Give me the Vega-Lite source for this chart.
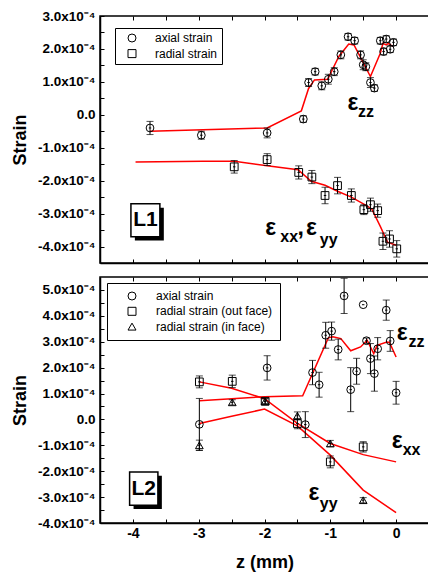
{
  "$schema": "https://vega.github.io/schema/vega-lite/v6.json",
  "background": "white",
  "padding": {"left": 10, "top": 8, "right": 0, "bottom": 0},
  "config": {
    "font": "Liberation Sans",
    "view": {"stroke": "black", "strokeWidth": 1.5},
    "axis": {"grid": false, "domainColor": "black", "domainWidth": 1.5, "tickColor": "black", "tickWidth": 1, "tickSize": -4, "labelFont": "Liberation Sans", "labelFontWeight": "bold", "labelFontSize": 13.5, "labelColor": "black", "titleFont": "Liberation Sans", "titleFontWeight": "bold", "titleFontSize": 18, "titleColor": "black", "labelOverlap": false, "labelFlush": false, "tickCount": 50},
    "legend": {"title": null, "orient": "none", "strokeColor": "black", "fillColor": "white", "labelFont": "Liberation Sans", "labelFontSize": 12, "labelColor": "black", "symbolSize": 64, "symbolStrokeWidth": 1, "symbolStrokeColor": "black"}
  },
  "datasets": {
    "top_pts": [
      {"z": -3.74, "v": -0.40e-4, "err": 0.20e-4, "series": "axial strain"},
      {"z": -2.96, "v": -0.62e-4, "err": 0.12e-4, "series": "axial strain"},
      {"z": -1.96, "v": -0.55e-4, "err": 0.15e-4, "series": "axial strain"},
      {"z": -1.41, "v": -0.13e-4, "err": 0.10e-4, "series": "axial strain"},
      {"z": -1.33, "v": 0.98e-4, "err": 0.12e-4, "series": "axial strain"},
      {"z": -1.23, "v": 1.31e-4, "err": 0.10e-4, "series": "axial strain"},
      {"z": -1.13, "v": 0.88e-4, "err": 0.12e-4, "series": "axial strain"},
      {"z": -1.03, "v": 1.08e-4, "err": 0.15e-4, "series": "axial strain"},
      {"z": -0.94, "v": 1.31e-4, "err": 0.12e-4, "series": "axial strain"},
      {"z": -0.84, "v": 1.82e-4, "err": 0.12e-4, "series": "axial strain"},
      {"z": -0.73, "v": 2.37e-4, "err": 0.10e-4, "series": "axial strain"},
      {"z": -0.63, "v": 2.25e-4, "err": 0.10e-4, "series": "axial strain"},
      {"z": -0.54, "v": 1.82e-4, "err": 0.12e-4, "series": "axial strain"},
      {"z": -0.50, "v": 1.52e-4, "err": 0.15e-4, "series": "axial strain"},
      {"z": -0.46, "v": 1.46e-4, "err": 0.12e-4, "series": "axial strain"},
      {"z": -0.39, "v": 0.98e-4, "err": 0.15e-4, "series": "axial strain"},
      {"z": -0.33, "v": 0.81e-4, "err": 0.10e-4, "series": "axial strain"},
      {"z": -0.24, "v": 2.25e-4, "err": 0.10e-4, "series": "axial strain"},
      {"z": -0.19, "v": 1.92e-4, "err": 0.10e-4, "series": "axial strain"},
      {"z": -0.15, "v": 2.30e-4, "err": 0.10e-4, "series": "axial strain"},
      {"z": -0.09, "v": 1.99e-4, "err": 0.10e-4, "series": "axial strain"},
      {"z": -0.04, "v": 2.20e-4, "err": 0.10e-4, "series": "axial strain"},
      {"z": -2.46, "v": -1.58e-4, "err": 0.19e-4, "series": "radial strain"},
      {"z": -1.96, "v": -1.36e-4, "err": 0.18e-4, "series": "radial strain"},
      {"z": -1.48, "v": -1.75e-4, "err": 0.20e-4, "series": "radial strain"},
      {"z": -1.28, "v": -1.89e-4, "err": 0.20e-4, "series": "radial strain"},
      {"z": -1.08, "v": -2.45e-4, "err": 0.25e-4, "series": "radial strain"},
      {"z": -0.89, "v": -2.15e-4, "err": 0.25e-4, "series": "radial strain"},
      {"z": -0.68, "v": -2.45e-4, "err": 0.20e-4, "series": "radial strain"},
      {"z": -0.49, "v": -2.88e-4, "err": 0.15e-4, "series": "radial strain"},
      {"z": -0.39, "v": -2.73e-4, "err": 0.20e-4, "series": "radial strain"},
      {"z": -0.28, "v": -2.91e-4, "err": 0.20e-4, "series": "radial strain"},
      {"z": -0.20, "v": -3.84e-4, "err": 0.25e-4, "series": "radial strain"},
      {"z": -0.10, "v": -3.77e-4, "err": 0.25e-4, "series": "radial strain"},
      {"z": 0.01, "v": -4.07e-4, "err": 0.25e-4, "series": "radial strain"}
    ],
    "top_fit": [
      {"z": -3.74, "v": -0.50e-4, "c": "zz"},
      {"z": -1.96, "v": -0.40e-4, "c": "zz"},
      {"z": -1.44, "v": 0.12e-4, "c": "zz"},
      {"z": -1.33, "v": 0.80e-4, "c": "zz"},
      {"z": -1.24, "v": 1.06e-4, "c": "zz"},
      {"z": -1.04, "v": 1.08e-4, "c": "zz"},
      {"z": -0.87, "v": 1.77e-4, "c": "zz"},
      {"z": -0.72, "v": 2.15e-4, "c": "zz"},
      {"z": -0.64, "v": 2.12e-4, "c": "zz"},
      {"z": -0.39, "v": 1.16e-4, "c": "zz"},
      {"z": -0.24, "v": 1.87e-4, "c": "zz"},
      {"z": -0.20, "v": 2.17e-4, "c": "zz"},
      {"z": -0.15, "v": 2.12e-4, "c": "zz"},
      {"z": -0.12, "v": 2.17e-4, "c": "zz"},
      {"z": -0.05, "v": 2.08e-4, "c": "zz"},
      {"z": -3.96, "v": -1.43e-4, "c": "xy"},
      {"z": -2.94, "v": -1.41e-4, "c": "xy"},
      {"z": -2.46, "v": -1.41e-4, "c": "xy"},
      {"z": -1.96, "v": -1.55e-4, "c": "xy"},
      {"z": -1.49, "v": -1.67e-4, "c": "xy"},
      {"z": -1.29, "v": -2.02e-4, "c": "xy"},
      {"z": -1.08, "v": -2.14e-4, "c": "xy"},
      {"z": -0.89, "v": -2.32e-4, "c": "xy"},
      {"z": -0.68, "v": -2.50e-4, "c": "xy"},
      {"z": -0.45, "v": -2.76e-4, "c": "xy"},
      {"z": -0.37, "v": -2.86e-4, "c": "xy"},
      {"z": -0.24, "v": -3.39e-4, "c": "xy"},
      {"z": -0.13, "v": -3.87e-4, "c": "xy"},
      {"z": 0.0, "v": -3.96e-4, "c": "xy"}
    ],
    "top_box": [
      {"z": -3.97, "z2": -3.53, "v": -2.82e-4, "v2": -3.82e-4, "k": "shadow"},
      {"z": -4.03, "z2": -3.59, "v": -2.70e-4, "v2": -3.70e-4, "k": "box"}
    ],
    "top_txt": [
      {"z": -0.74, "v": 0.36e-4, "t": "ε", "k": "big"},
      {"z": -0.58, "v": 0.08e-4, "t": "zz", "k": "sub"},
      {"z": -1.99, "v": -3.43e-4, "t": "ε", "k": "big"},
      {"z": -1.76, "v": -3.72e-4, "t": "xx", "k": "sub"},
      {"z": -1.50, "v": -3.43e-4, "t": ",", "k": "big"},
      {"z": -1.37, "v": -3.43e-4, "t": "ε", "k": "big"},
      {"z": -1.16, "v": -3.80e-4, "t": "yy", "k": "sub"},
      {"z": -3.81, "v": -3.2e-4, "t": "L1", "k": "L"}
    ],
    "bot_pts": [
      {"z": -2.99, "v": -0.19e-4, "err": 1.0e-4, "series": "axial strain"},
      {"z": -1.96, "v": 1.99e-4, "err": 0.47e-4, "series": "axial strain"},
      {"z": -1.38, "v": -0.20e-4, "err": 0.50e-4, "series": "axial strain"},
      {"z": -1.27, "v": 1.81e-4, "err": 0.47e-4, "series": "axial strain"},
      {"z": -1.17, "v": 1.34e-4, "err": 0.48e-4, "series": "axial strain"},
      {"z": -1.07, "v": 3.25e-4, "err": 0.50e-4, "series": "axial strain"},
      {"z": -0.98, "v": 3.41e-4, "err": 0.35e-4, "series": "axial strain"},
      {"z": -0.88, "v": 2.70e-4, "err": 0.40e-4, "series": "axial strain"},
      {"z": -0.79, "v": 4.77e-4, "err": 0.68e-4, "series": "axial strain"},
      {"z": -0.69, "v": 1.15e-4, "err": 0.85e-4, "series": "axial strain"},
      {"z": -0.60, "v": 1.86e-4, "err": 0.50e-4, "series": "axial strain"},
      {"z": -0.50, "v": 4.43e-4, "err": 0, "series": "axial strain"},
      {"z": -0.45, "v": 3.04e-4, "err": 0.10e-4, "series": "axial strain"},
      {"z": -0.39, "v": 2.35e-4, "err": 0.58e-4, "series": "axial strain"},
      {"z": -0.33, "v": 1.77e-4, "err": 0.68e-4, "series": "axial strain"},
      {"z": -0.28, "v": 2.73e-4, "err": 0.43e-4, "series": "axial strain"},
      {"z": -0.15, "v": 4.22e-4, "err": 0.39e-4, "series": "axial strain"},
      {"z": -0.09, "v": 3.03e-4, "err": 0.40e-4, "series": "axial strain"},
      {"z": 0.0, "v": 1.03e-4, "err": 0.44e-4, "series": "axial strain"},
      {"z": -2.99, "v": 1.45e-4, "err": 0.23e-4, "series": "radial strain (out face)"},
      {"z": -2.49, "v": 1.47e-4, "err": 0.24e-4, "series": "radial strain (out face)"},
      {"z": -1.99, "v": 0.70e-4, "err": 0.10e-4, "series": "radial strain (out face)"},
      {"z": -1.50, "v": -0.16e-4, "err": 0.20e-4, "series": "radial strain (out face)"},
      {"z": -1.00, "v": -1.64e-4, "err": 0.23e-4, "series": "radial strain (out face)"},
      {"z": -0.50, "v": -1.06e-4, "err": 0.20e-4, "series": "radial strain (out face)"},
      {"z": -2.99, "v": -1.00e-4, "err": 0.20e-4, "series": "radial strain (in face)"},
      {"z": -2.49, "v": 0.66e-4, "err": 0.10e-4, "series": "radial strain (in face)"},
      {"z": -1.99, "v": 0.70e-4, "err": 0.10e-4, "series": "radial strain (in face)"},
      {"z": -1.50, "v": 0.14e-4, "err": 0.15e-4, "series": "radial strain (in face)"},
      {"z": -1.00, "v": -0.93e-4, "err": 0.12e-4, "series": "radial strain (in face)"},
      {"z": -0.50, "v": -3.12e-4, "err": 0.10e-4, "series": "radial strain (in face)"}
    ],
    "bot_fit": [
      {"z": -2.99, "v": 0.72e-4, "c": "zz"},
      {"z": -2.0, "v": 0.88e-4, "c": "zz"},
      {"z": -1.42, "v": 0.91e-4, "c": "zz"},
      {"z": -1.03, "v": 3.15e-4, "c": "zz"},
      {"z": -0.96, "v": 3.19e-4, "c": "zz"},
      {"z": -0.84, "v": 3.12e-4, "c": "zz"},
      {"z": -0.69, "v": 2.65e-4, "c": "zz"},
      {"z": -0.54, "v": 2.80e-4, "c": "zz"},
      {"z": -0.44, "v": 3.06e-4, "c": "zz"},
      {"z": -0.34, "v": 2.54e-4, "c": "zz"},
      {"z": -0.29, "v": 2.86e-4, "c": "zz"},
      {"z": -0.14, "v": 2.99e-4, "c": "zz"},
      {"z": -0.10, "v": 2.97e-4, "c": "zz"},
      {"z": 0.0, "v": 2.41e-4, "c": "zz"},
      {"z": -2.99, "v": 1.45e-4, "c": "xx"},
      {"z": -2.5, "v": 1.20e-4, "c": "xx"},
      {"z": -2.0, "v": 0.80e-4, "c": "xx"},
      {"z": -1.5, "v": -0.15e-4, "c": "xx"},
      {"z": -1.0, "v": -0.93e-4, "c": "xx"},
      {"z": -0.5, "v": -1.36e-4, "c": "xx"},
      {"z": 0.0, "v": -1.64e-4, "c": "xx"},
      {"z": -2.99, "v": -0.16e-4, "c": "yy"},
      {"z": -2.5, "v": 0.12e-4, "c": "yy"},
      {"z": -2.0, "v": 0.40e-4, "c": "yy"},
      {"z": -1.5, "v": -0.25e-4, "c": "yy"},
      {"z": -1.0, "v": -1.38e-4, "c": "yy"},
      {"z": -0.5, "v": -2.73e-4, "c": "yy"},
      {"z": 0.0, "v": -3.60e-4, "c": "yy"}
    ],
    "bot_box": [
      {"z": -3.99, "z2": -3.56, "v": -2.18e-4, "v2": -3.46e-4, "k": "shadow"},
      {"z": -4.05, "z2": -3.62, "v": -2.03e-4, "v2": -3.31e-4, "k": "box"}
    ],
    "bot_txt": [
      {"z": 0.01, "v": 3.35e-4, "t": "ε", "k": "big"},
      {"z": 0.19, "v": 2.99e-4, "t": "zz", "k": "sub"},
      {"z": -0.065, "v": -0.84e-4, "t": "ε", "k": "big"},
      {"z": 0.10, "v": -1.20e-4, "t": "xx", "k": "sub"},
      {"z": -1.33, "v": -2.86e-4, "t": "ε", "k": "big"},
      {"z": -1.16, "v": -3.26e-4, "t": "yy", "k": "sub"},
      {"z": -3.835, "v": -2.67e-4, "t": "L2", "k": "L"}
    ]
  },
  "spacing": 10,
  "resolve": {"scale": {"x": "independent", "y": "independent", "shape": "independent"}, "legend": {"shape": "independent"}},
  "vconcat": [
    {
      "width": 329,
      "height": 247,
      "resolve": {"axis": {"x": "independent"}},
      "layer": [
        {
          "data": {"name": "top_box"},
          "transform": [{"filter": "datum.k == 'shadow'"}],
          "mark": {"type": "rect", "color": "black"},
          "encoding": {
            "x": {"field": "z", "type": "quantitative", "scale": {"domain": [-4.5, 0.5], "nice": false, "zero": false}, "axis": {"orient": "bottom", "values": [-4, -3.5, -3, -2.5, -2, -1.5, -1, -0.5, 0], "tickCount": 50, "labels": false, "title": null, "minExtent": 0, "maxExtent": 0}},
            "x2": {"field": "z2"},
            "y": {"field": "v", "type": "quantitative", "scale": {"domain": [-0.00045, 0.0003], "nice": false, "zero": false}, "axis": {"title": "Strain", "values": [-0.0004, -0.00035, -0.0003, -0.00025, -0.0002, -0.00015, -0.0001, -0.00005, 0, 0.00005, 0.0001, 0.00015, 0.0002, 0.00025, 0.0003], "tickCount": 50, "labelExpr": "abs(datum.value) < 1e-9 ? '0.0' : (abs(datum.value*1e4 - round(datum.value*1e4)) > 0.01 ? '' : (datum.value < 0 ? '-' : '') + format(abs(datum.value)*1e4, '.1f') + 'x10⁻⁴')", "labelPadding": 9, "titlePadding": 8, "labelOverlap": false}},
            "y2": {"field": "v2"}
          }
        },
        {
          "data": {"name": "top_box"},
          "transform": [{"filter": "datum.k == 'box'"}],
          "mark": {"type": "rect", "fill": "white", "stroke": "black", "strokeWidth": 1.5},
          "encoding": {
            "x": {"field": "z", "type": "quantitative", "scale": {"domain": [-4.5, 0.5], "nice": false, "zero": false}, "axis": {"orient": "top", "values": [-4, -3.5, -3, -2.5, -2, -1.5, -1, -0.5, 0], "tickCount": 50, "labels": false, "title": null, "domain": false, "minExtent": 0, "maxExtent": 0}},
            "x2": {"field": "z2"},
            "y": {"field": "v", "type": "quantitative", "scale": {"domain": [-0.00045, 0.0003], "nice": false, "zero": false}, "title": "Strain"},
            "y2": {"field": "v2"}
          }
        },
        {
          "data": {"name": "top_fit"},
          "mark": {"type": "line", "color": "#ff0000", "strokeWidth": 1.5},
          "encoding": {
            "x": {"field": "z", "type": "quantitative", "scale": {"domain": [-4.5, 0.5], "nice": false, "zero": false}, "axis": null},
            "y": {"field": "v", "type": "quantitative", "scale": {"domain": [-0.00045, 0.0003], "nice": false, "zero": false}, "title": "Strain"},
            "detail": {"field": "c"}
          }
        },
        {
          "data": {"name": "top_pts"},
          "transform": [{"filter": "datum.err > 0"}],
          "mark": {"type": "errorbar", "ticks": {"color": "black"}, "rule": {"color": "black"}, "color": "black", "thickness": 1, "size": 7},
          "encoding": {
            "x": {"field": "z", "type": "quantitative", "scale": {"domain": [-4.5, 0.5], "nice": false, "zero": false}, "axis": null},
            "y": {"field": "v", "type": "quantitative", "scale": {"domain": [-0.00045, 0.0003], "nice": false, "zero": false}, "title": "Strain"},
            "yError": {"field": "err"}
          }
        },
        {
          "data": {"name": "top_pts"},
          "mark": {"type": "point", "filled": false, "color": "black", "opacity": 1, "size": 60, "strokeWidth": 1},
          "encoding": {
            "x": {"field": "z", "type": "quantitative", "scale": {"domain": [-4.5, 0.5], "nice": false, "zero": false}, "axis": null},
            "y": {"field": "v", "type": "quantitative", "scale": {"domain": [-0.00045, 0.0003], "nice": false, "zero": false}, "title": "Strain"},
            "shape": {"field": "series", "type": "nominal", "scale": {"domain": ["axial strain", "radial strain"], "range": ["circle", "square"]}, "legend": {"legendX": 15, "legendY": 12, "padding": 4, "symbolOffset": 7, "labelOffset": 17, "rowPadding": 3.6}}
          }
        },
        {
          "data": {"name": "top_pts"},
          "mark": {"type": "point", "shape": "stroke", "filled": false, "color": "black", "opacity": 1, "size": 6, "strokeWidth": 1},
          "encoding": {
            "x": {"field": "z", "type": "quantitative", "scale": {"domain": [-4.5, 0.5], "nice": false, "zero": false}, "axis": null},
            "y": {"field": "v", "type": "quantitative", "scale": {"domain": [-0.00045, 0.0003], "nice": false, "zero": false}, "title": "Strain"}
          }
        },
        {
          "data": {"name": "top_txt"},
          "transform": [{"filter": "datum.k == 'L'"}],
          "mark": {"type": "text", "align": "center", "baseline": "middle", "fontSize": 21, "fontWeight": "bold", "color": "black"},
          "encoding": {
            "x": {"field": "z", "type": "quantitative", "scale": {"domain": [-4.5, 0.5], "nice": false, "zero": false}, "axis": null},
            "y": {"field": "v", "type": "quantitative", "scale": {"domain": [-0.00045, 0.0003], "nice": false, "zero": false}, "title": "Strain"},
            "text": {"field": "t"}
          }
        },
        {
          "data": {"name": "top_txt"},
          "transform": [{"filter": "datum.k == 'big'"}],
          "mark": {"type": "text", "align": "left", "baseline": "middle", "fontSize": 23, "fontWeight": "bold", "color": "black"},
          "encoding": {
            "x": {"field": "z", "type": "quantitative", "scale": {"domain": [-4.5, 0.5], "nice": false, "zero": false}, "axis": null},
            "y": {"field": "v", "type": "quantitative", "scale": {"domain": [-0.00045, 0.0003], "nice": false, "zero": false}, "title": "Strain"},
            "text": {"field": "t"}
          }
        },
        {
          "data": {"name": "top_txt"},
          "transform": [{"filter": "datum.k == 'sub'"}],
          "mark": {"type": "text", "align": "left", "baseline": "middle", "fontSize": 16, "fontWeight": "bold", "color": "black"},
          "encoding": {
            "x": {"field": "z", "type": "quantitative", "scale": {"domain": [-4.5, 0.5], "nice": false, "zero": false}, "axis": null},
            "y": {"field": "v", "type": "quantitative", "scale": {"domain": [-0.00045, 0.0003], "nice": false, "zero": false}, "title": "Strain"},
            "text": {"field": "t"}
          }
        }
      ]
    },
    {
      "width": 329,
      "height": 246,
      "resolve": {"axis": {"x": "independent"}},
      "layer": [
        {
          "data": {"name": "bot_box"},
          "transform": [{"filter": "datum.k == 'shadow'"}],
          "mark": {"type": "rect", "color": "black"},
          "encoding": {
            "x": {"field": "z", "type": "quantitative", "scale": {"domain": [-4.5, 0.5], "nice": false, "zero": false}, "axis": {"orient": "bottom", "values": [-4, -3.5, -3, -2.5, -2, -1.5, -1, -0.5, 0], "tickCount": 50, "labelExpr": "datum.value % 1 == 0 ? (datum.value < 0 ? '-' : '') + format(abs(datum.value), 'd') : ''", "labelFontSize": 14, "labelPadding": 7, "title": "z (mm)", "titlePadding": 13, "labelOverlap": false}},
            "x2": {"field": "z2"},
            "y": {"field": "v", "type": "quantitative", "scale": {"domain": [-0.0004, 0.00055], "nice": false, "zero": false}, "axis": {"title": "Strain", "values": [-0.0004, -0.00035, -0.0003, -0.00025, -0.0002, -0.00015, -0.0001, -0.00005, 0, 0.00005, 0.0001, 0.00015, 0.0002, 0.00025, 0.0003, 0.00035, 0.0004, 0.00045, 0.0005], "tickCount": 50, "labelExpr": "abs(datum.value) < 1e-9 ? '0.0' : (abs(datum.value*1e4 - round(datum.value*1e4)) > 0.01 ? '' : (datum.value < 0 ? '-' : '') + format(abs(datum.value)*1e4, '.1f') + 'x10⁻⁴')", "labelPadding": 9, "titlePadding": 8, "labelOverlap": false}},
            "y2": {"field": "v2"}
          }
        },
        {
          "data": {"name": "bot_box"},
          "transform": [{"filter": "datum.k == 'box'"}],
          "mark": {"type": "rect", "fill": "white", "stroke": "black", "strokeWidth": 1.5},
          "encoding": {
            "x": {"field": "z", "type": "quantitative", "scale": {"domain": [-4.5, 0.5], "nice": false, "zero": false}, "axis": {"orient": "top", "values": [-4, -3.5, -3, -2.5, -2, -1.5, -1, -0.5, 0], "tickCount": 50, "labels": false, "title": null, "domain": false, "minExtent": 0, "maxExtent": 0}},
            "x2": {"field": "z2"},
            "y": {"field": "v", "type": "quantitative", "scale": {"domain": [-0.0004, 0.00055], "nice": false, "zero": false}, "title": "Strain"},
            "y2": {"field": "v2"}
          }
        },
        {
          "data": {"name": "bot_fit"},
          "mark": {"type": "line", "color": "#ff0000", "strokeWidth": 1.5},
          "encoding": {
            "x": {"field": "z", "type": "quantitative", "scale": {"domain": [-4.5, 0.5], "nice": false, "zero": false}, "axis": null},
            "y": {"field": "v", "type": "quantitative", "scale": {"domain": [-0.0004, 0.00055], "nice": false, "zero": false}, "title": "Strain"},
            "detail": {"field": "c"}
          }
        },
        {
          "data": {"name": "bot_pts"},
          "transform": [{"filter": "datum.err > 0"}],
          "mark": {"type": "errorbar", "ticks": {"color": "black"}, "rule": {"color": "black"}, "color": "black", "thickness": 1, "size": 7},
          "encoding": {
            "x": {"field": "z", "type": "quantitative", "scale": {"domain": [-4.5, 0.5], "nice": false, "zero": false}, "axis": null},
            "y": {"field": "v", "type": "quantitative", "scale": {"domain": [-0.0004, 0.00055], "nice": false, "zero": false}, "title": "Strain"},
            "yError": {"field": "err"}
          }
        },
        {
          "data": {"name": "bot_pts"},
          "mark": {"type": "point", "filled": false, "color": "black", "opacity": 1, "size": 60, "strokeWidth": 1},
          "encoding": {
            "x": {"field": "z", "type": "quantitative", "scale": {"domain": [-4.5, 0.5], "nice": false, "zero": false}, "axis": null},
            "y": {"field": "v", "type": "quantitative", "scale": {"domain": [-0.0004, 0.00055], "nice": false, "zero": false}, "title": "Strain"},
            "shape": {"field": "series", "type": "nominal", "scale": {"domain": ["axial strain", "radial strain (out face)", "radial strain (in face)"], "range": ["circle", "square", "triangle-up"]}, "legend": {"legendX": 7, "legendY": 6, "padding": 7, "symbolOffset": 12, "labelOffset": 18, "rowPadding": 3.3, "labelExpr": "datum.label == 'radial strain (out face)' ? datum.label + '\u00a0\u00a0\u00a0\u00a0' : datum.label"}}
          }
        },
        {
          "data": {"name": "bot_pts"},
          "mark": {"type": "point", "shape": "stroke", "filled": false, "color": "black", "opacity": 1, "size": 6, "strokeWidth": 1},
          "encoding": {
            "x": {"field": "z", "type": "quantitative", "scale": {"domain": [-4.5, 0.5], "nice": false, "zero": false}, "axis": null},
            "y": {"field": "v", "type": "quantitative", "scale": {"domain": [-0.0004, 0.00055], "nice": false, "zero": false}, "title": "Strain"}
          }
        },
        {
          "data": {"name": "bot_txt"},
          "transform": [{"filter": "datum.k == 'L'"}],
          "mark": {"type": "text", "align": "center", "baseline": "middle", "fontSize": 21, "fontWeight": "bold", "color": "black"},
          "encoding": {
            "x": {"field": "z", "type": "quantitative", "scale": {"domain": [-4.5, 0.5], "nice": false, "zero": false}, "axis": null},
            "y": {"field": "v", "type": "quantitative", "scale": {"domain": [-0.0004, 0.00055], "nice": false, "zero": false}, "title": "Strain"},
            "text": {"field": "t"}
          }
        },
        {
          "data": {"name": "bot_txt"},
          "transform": [{"filter": "datum.k == 'big'"}],
          "mark": {"type": "text", "align": "left", "baseline": "middle", "fontSize": 23, "fontWeight": "bold", "color": "black"},
          "encoding": {
            "x": {"field": "z", "type": "quantitative", "scale": {"domain": [-4.5, 0.5], "nice": false, "zero": false}, "axis": null},
            "y": {"field": "v", "type": "quantitative", "scale": {"domain": [-0.0004, 0.00055], "nice": false, "zero": false}, "title": "Strain"},
            "text": {"field": "t"}
          }
        },
        {
          "data": {"name": "bot_txt"},
          "transform": [{"filter": "datum.k == 'sub'"}],
          "mark": {"type": "text", "align": "left", "baseline": "middle", "fontSize": 16, "fontWeight": "bold", "color": "black"},
          "encoding": {
            "x": {"field": "z", "type": "quantitative", "scale": {"domain": [-4.5, 0.5], "nice": false, "zero": false}, "axis": null},
            "y": {"field": "v", "type": "quantitative", "scale": {"domain": [-0.0004, 0.00055], "nice": false, "zero": false}, "title": "Strain"},
            "text": {"field": "t"}
          }
        }
      ]
    }
  ]
}
